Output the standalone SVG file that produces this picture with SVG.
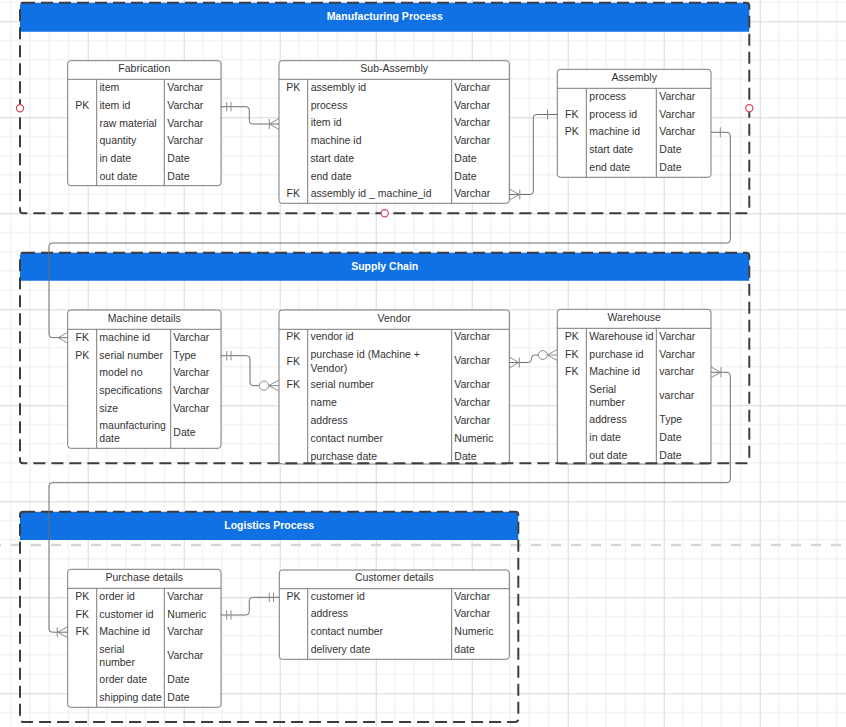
<svg xmlns="http://www.w3.org/2000/svg" width="846" height="727" viewBox="0 0 846 727">
<defs>
<pattern id="grid" patternUnits="userSpaceOnUse" x="87.7" y="21.3" width="96" height="96">
<path d="M19.2,0V96M38.4,0V96M57.6,0V96M76.8,0V96M0,19.2H96M0,38.4H96M0,57.6H96M0,76.8H96" stroke="#ececec" stroke-width="1" fill="none"/>
<path d="M0.5,0V96M0,0.5H96" stroke="#d8d8d8" stroke-width="1" fill="none"/>
</pattern>
</defs>
<style>
.tb{fill:#fff;stroke:#7a7a7a;stroke-width:1}
.dv{stroke:#7a7a7a;stroke-width:1;fill:none}
.t{font-family:"Liberation Sans",Arial,sans-serif;font-size:10.5px;fill:#333}
.c{text-anchor:middle}
.hd{font-family:"Liberation Sans",Arial,sans-serif;font-size:10.5px;font-weight:bold;fill:#fff;text-anchor:middle}
.hdr{fill:#1071e5}
.cont{fill:none;stroke:#3d3d3d;stroke-width:2;stroke-dasharray:12 6}
.cn{fill:none;stroke:#6e6e6e;stroke-width:1}
.mk{fill:none;stroke:#8c8c8c;stroke-width:1}
.mkc{fill:#fff;stroke:#8c8c8c;stroke-width:1}
.sel{fill:#fff;stroke:#d9455f;stroke-width:1.2}
</style>
<rect width="846" height="727" fill="#fff"/>
<rect width="846" height="727" fill="url(#grid)"/>
<line x1="-9" y1="545" x2="846" y2="545" stroke="#d6d6d6" stroke-width="2.7" stroke-dasharray="10 10"/>

<g id="fabrication">
<rect class="tb" x="67.7" y="60.7" width="153.3" height="125" rx="3"/>
<path class="dv" d="M67.7,79.3H221M96.7,79.3V185.7M164.3,79.3V185.7"/>
<text class="t c" x="144.3" y="72.2">Fabrication</text>
<text class="t c" x="82.2" y="109.1">PK</text>
<text class="t" x="99.5" y="91.1">item</text>
<text class="t" x="99.5" y="109.1">item id</text>
<text class="t" x="99.5" y="126.5">raw material</text>
<text class="t" x="99.5" y="144.1">quantity</text>
<text class="t" x="99.5" y="161.8">in date</text>
<text class="t" x="99.5" y="179.8">out date</text>
<text class="t" x="167.3" y="91.1">Varchar</text>
<text class="t" x="167.3" y="109.1">Varchar</text>
<text class="t" x="167.3" y="126.5">Varchar</text>
<text class="t" x="167.3" y="144.1">Varchar</text>
<text class="t" x="167.3" y="161.8">Date</text>
<text class="t" x="167.3" y="179.8">Date</text>
</g>

<g id="sub-assembly">
<rect class="tb" x="279" y="60.7" width="230.3" height="142.6" rx="3"/>
<path class="dv" d="M279,79.3H509.3M307.7,79.3V203.3M451.7,79.3V203.3"/>
<text class="t c" x="394.2" y="72.1">Sub-Assembly</text>
<text class="t c" x="293.3" y="91.1">PK</text>
<text class="t c" x="293.3" y="197.1">FK</text>
<text class="t" x="310.7" y="91.1">assembly id</text>
<text class="t" x="310.7" y="108.8">process</text>
<text class="t" x="310.7" y="126.1">item id</text>
<text class="t" x="310.7" y="144.1">machine id</text>
<text class="t" x="310.3" y="161.8">start date</text>
<text class="t" x="310.7" y="179.8">end date</text>
<text class="t" x="310.7" y="197.1">assembly id _ machine_id</text>
<text class="t" x="454.3" y="91.1">Varchar</text>
<text class="t" x="454.3" y="108.8">Varchar</text>
<text class="t" x="454.3" y="126.1">Varchar</text>
<text class="t" x="454.3" y="144.1">Varchar</text>
<text class="t" x="454.3" y="161.8">Date</text>
<text class="t" x="454.3" y="179.8">Date</text>
<text class="t" x="454.3" y="197.1">Varchar</text>
</g>

<g id="assembly">
<rect class="tb" x="557.3" y="69.3" width="153.7" height="108" rx="3"/>
<path class="dv" d="M557.3,88.3H711M586.3,88.3V177.3M656.3,88.3V177.3"/>
<text class="t c" x="634.2" y="81.1">Assembly</text>
<text class="t c" x="571.8" y="117.8">FK</text>
<text class="t c" x="571.8" y="135.1">PK</text>
<text class="t" x="589.3" y="100.1">process</text>
<text class="t" x="589.3" y="117.8">process id</text>
<text class="t" x="589.3" y="135.1">machine id</text>
<text class="t" x="589.3" y="152.8">start date</text>
<text class="t" x="589.3" y="170.8">end date</text>
<text class="t" x="659.3" y="100.1">Varchar</text>
<text class="t" x="659.3" y="117.8">Varchar</text>
<text class="t" x="659.3" y="135.1">Varchar</text>
<text class="t" x="659.3" y="152.8">Date</text>
<text class="t" x="659.3" y="170.8">Date</text>
</g>

<g id="machine-details">
<rect class="tb" x="67.7" y="310" width="153.3" height="138.3" rx="3"/>
<path class="dv" d="M67.7,329.3H221M96.7,329.3V448.3M170.7,329.3V448.3"/>
<text class="t c" x="144.3" y="322.1">Machine details</text>
<text class="t c" x="82.2" y="340.5">FK</text>
<text class="t c" x="82.2" y="358.5">PK</text>
<text class="t" x="99.3" y="340.5">machine id</text>
<text class="t" x="99.3" y="358.5">serial number</text>
<text class="t" x="99.3" y="376.1">model no</text>
<text class="t" x="99.3" y="394.1">specifications</text>
<text class="t" x="99.3" y="412.1">size</text>
<text class="t" x="99.3" y="428.8">maunfacturing</text>
<text class="t" x="99.3" y="442.1">date</text>
<text class="t" x="173.3" y="340.5">Varchar</text>
<text class="t" x="173.3" y="358.5">Type</text>
<text class="t" x="173.3" y="376.1">Varchar</text>
<text class="t" x="173.3" y="394.1">Varchar</text>
<text class="t" x="173.3" y="412.1">Varchar</text>
<text class="t" x="173.3" y="435.5">Date</text>
</g>

<g id="vendor">
<rect class="tb" x="279" y="310" width="230.3" height="154" rx="3"/>
<path class="dv" d="M279,329.3H509.3M307.7,329.3V464M451.7,329.3V464"/>
<text class="t c" x="394.2" y="322.1">Vendor</text>
<text class="t c" x="293.3" y="339.8">PK</text>
<text class="t c" x="293.3" y="364.8">FK</text>
<text class="t c" x="293.3" y="387.8">FK</text>
<text class="t" x="310.5" y="339.8">vendor id</text>
<text class="t" x="310.5" y="357.8">purchase id (Machine +</text>
<text class="t" x="310.5" y="371.5">Vendor)</text>
<text class="t" x="310.5" y="387.8">serial number</text>
<text class="t" x="310.5" y="405.5">name</text>
<text class="t" x="310.5" y="423.8">address</text>
<text class="t" x="310.5" y="441.5">contact number</text>
<text class="t" x="310.5" y="459.8">purchase date</text>
<text class="t" x="454.3" y="339.8">Varchar</text>
<text class="t" x="454.3" y="364.1">Varchar</text>
<text class="t" x="454.3" y="387.8">Varchar</text>
<text class="t" x="454.3" y="405.5">Varchar</text>
<text class="t" x="454.3" y="423.8">Varchar</text>
<text class="t" x="454.3" y="441.5">Numeric</text>
<text class="t" x="454.3" y="459.8">Date</text>
</g>

<g id="warehouse">
<rect class="tb" x="557.3" y="309.3" width="153.7" height="154.7" rx="3"/>
<path class="dv" d="M557.3,328.3H711M586.3,328.3V464M656.3,328.3V464"/>
<text class="t c" x="634.2" y="321.1">Warehouse</text>
<text class="t c" x="571.8" y="339.8">PK</text>
<text class="t c" x="571.8" y="357.8">FK</text>
<text class="t c" x="571.8" y="375.1">FK</text>
<text class="t" x="589.3" y="339.8">Warehouse id</text>
<text class="t" x="589.3" y="357.8">purchase id</text>
<text class="t" x="589.3" y="375.1">Machine id</text>
<text class="t" x="589.3" y="393.1">Serial</text>
<text class="t" x="589.3" y="406.1">number</text>
<text class="t" x="589.3" y="423.1">address</text>
<text class="t" x="589.3" y="440.8">in date</text>
<text class="t" x="589.3" y="458.8">out date</text>
<text class="t" x="659.3" y="339.8">Varchar</text>
<text class="t" x="659.3" y="357.8">Varchar</text>
<text class="t" x="659.3" y="375.1">varchar</text>
<text class="t" x="659.3" y="399.1">varchar</text>
<text class="t" x="659.3" y="423.1">Type</text>
<text class="t" x="659.3" y="440.8">Date</text>
<text class="t" x="659.3" y="458.8">Date</text>
</g>

<g id="purchase-details">
<rect class="tb" x="67.7" y="569.3" width="153.3" height="138" rx="3"/>
<path class="dv" d="M67.7,588.3H221M96.7,588.3V707.3M164.3,588.3V707.3"/>
<text class="t c" x="144.3" y="581.1">Purchase details</text>
<text class="t c" x="82.2" y="599.8">PK</text>
<text class="t c" x="82.2" y="617.5">FK</text>
<text class="t c" x="82.2" y="635.1">FK</text>
<text class="t" x="99.3" y="599.8">order id</text>
<text class="t" x="99.3" y="617.5">customer id</text>
<text class="t" x="99.3" y="635.1">Machine id</text>
<text class="t" x="99.3" y="653.1">serial</text>
<text class="t" x="99.3" y="666.1">number</text>
<text class="t" x="99.3" y="683.1">order date</text>
<text class="t" x="99.3" y="701.1">shipping date</text>
<text class="t" x="167.3" y="599.8">Varchar</text>
<text class="t" x="167.3" y="617.5">Numeric</text>
<text class="t" x="167.3" y="635.1">Varchar</text>
<text class="t" x="167.3" y="658.8">Varchar</text>
<text class="t" x="167.3" y="683.1">Date</text>
<text class="t" x="167.3" y="701.1">Date</text>
</g>

<g id="customer-details">
<rect class="tb" x="279.3" y="570" width="230" height="89.3" rx="3"/>
<path class="dv" d="M279.3,588.7H509.3M307.7,588.7V659.3M451.7,588.7V659.3"/>
<text class="t c" x="394.3" y="581.1">Customer details</text>
<text class="t c" x="293.5" y="600.1">PK</text>
<text class="t" x="310.7" y="600.1">customer id</text>
<text class="t" x="310.7" y="617.1">address</text>
<text class="t" x="310.7" y="634.8">contact number</text>
<text class="t" x="310.7" y="652.8">delivery date</text>
<text class="t" x="454.3" y="600.1">Varchar</text>
<text class="t" x="454.3" y="617.1">Varchar</text>
<text class="t" x="454.3" y="634.8">Numeric</text>
<text class="t" x="454.3" y="652.8">date</text>
</g>

<g id="manufacturing-process">
<path class="hdr" d="M20,5.7Q20,2.7 23,2.7H746.3Q749.3,2.7 749.3,5.7V31.7H20Z"/>
<rect class="cont" x="20" y="2.7" width="729.3" height="210.6" rx="3"/>
<text class="hd" x="384.7" y="19.8">Manufacturing Process</text>
<circle class="sel" cx="20" cy="108.3" r="3.6"/>
<circle class="sel" cx="749.3" cy="108.3" r="3.6"/>
<circle class="sel" cx="384.7" cy="213.3" r="3.6"/>
</g>

<g id="supply-chain">
<path class="hdr" d="M20,255.7Q20,252.7 23,252.7H746.3Q749.3,252.7 749.3,255.7V280.7H20Z"/>
<rect class="cont" x="20" y="252.7" width="729.3" height="210.6" rx="3"/>
<text class="hd" x="384.7" y="269.8">Supply Chain</text>
</g>

<g id="logistics-process">
<path class="hdr" d="M20,514.7Q20,511.7 23,511.7H515.3Q518.3,511.7 518.3,514.7V540H20Z"/>
<rect class="cont" x="20" y="511.7" width="498.3" height="210.3" rx="3"/>
<text class="hd" x="269.2" y="528.8">Logistics Process</text>
</g>

<g id="connectors">
<!-- Fabrication -> Sub-Assembly -->
<path class="cn" d="M221,106.7H246Q249.3,106.7 249.3,110V120.7Q249.3,124 252.6,124H279"/>
<path class="mk" d="M226.7,102V111.4M231,102V111.4M269.3,119V129M279,118.5L269.3,124L279,129.5"/>
<!-- Sub-Assembly -> Assembly -->
<path class="cn" d="M509.3,194.5H530Q533.3,194.5 533.3,191.2V117.8Q533.3,114.5 536.6,114.5H557.3"/>
<path class="mk" d="M509.3,189L519.3,194.5L509.3,200M519.8,189.5V199.5M547.5,109.5V119.5"/>
<!-- Assembly -> Machine details -->
<path class="cn" d="M711,132.3H727Q730.3,132.3 730.3,135.6V239.7Q730.3,243 727,243H52.3Q49,243 49,246.3V334.4Q49,337.7 52.3,337.7H67.7"/>
<path class="mk" d="M720.3,127.3V137.3M67.7,332.2L58.3,337.7L67.7,343.2"/>
<!-- Machine details -> Vendor -->
<path class="cn" d="M221,355.7H246.7Q250,355.7 250,359V382.3Q250,385.6 253.3,385.6H259.3"/>
<path class="mk" d="M226.7,351V360.4M231,351V360.4M268.7,385.6H279M279,380.1L268.7,385.6L279,391.1"/>
<circle class="mkc" cx="264" cy="385.6" r="4.6"/>
<!-- Vendor -> Warehouse -->
<path class="cn" d="M509.3,362.5H528.2Q531.5,362.5 531.5,359.2V358.2Q531.5,355 534.8,355H538.3"/>
<path class="mk" d="M509.3,357L518.8,362.5L509.3,368M519.3,357.5V367.5M547.3,355H557.3M557.3,349.5L547.3,355L557.3,360.5"/>
<circle class="mkc" cx="542.8" cy="355" r="4.5"/>
<!-- Warehouse -> Purchase details -->
<path class="cn" d="M711,372.3H727Q730.3,372.3 730.3,375.6V479.4Q730.3,482.7 727,482.7H52.3Q49,482.7 49,486V628.9Q49,632.2 52.3,632.2H67.7"/>
<path class="mk" d="M711,366.8L720.5,372.3L711,377.8M721,367.3V377.3M67.7,626.7L57.8,632.2L67.7,637.7M57.3,627.2V637.2"/>
<!-- Purchase details -> Customer details -->
<path class="cn" d="M221,615H246Q249.3,615 249.3,611.7V600.6Q249.3,597.3 252.6,597.3H279.3"/>
<path class="mk" d="M226.7,610.3V619.7M231,610.3V619.7M269.3,592.6V602M273.5,592.6V602"/>
</g>
</svg>
